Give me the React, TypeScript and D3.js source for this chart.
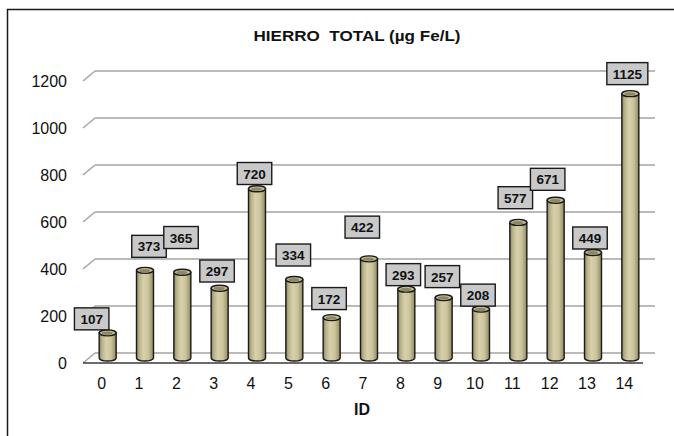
import React from "react";
import * as d3 from "d3";

const ids: string[] = ["0","1","2","3","4","5","6","7","8","9","10","11","12","13","14"];
const values: number[] = [107,373,365,297,720,334,172,422,293,257,208,577,671,449,1125];
const yTicks: number[] = [0,200,400,600,800,1000,1200];
const title = "HIERRO\u00a0\u00a0TOTAL (\u00b5g Fe/L)";
const xTitle = "ID";
// label nudges relative to bar top (style/layout)
const labelNudgeX: number[] = [-16,4,-1.3,-2.6,-2.5,-1,-2.6,-6.7,-3,-1.3,-3,-3,-8,-3,-3];
const labelNudgeY: number[] = [-14,-24,-34.7,-17.2,-15.3,-24.5,-19,-31.7,-14.5,-21,-14,-24.7,-21,-14.5,-20];

const W = 674, H = 436;
const depthX = -12, depthY = 10; // back -> front
const FONT = "'Liberation Sans', Arial, sans-serif";

export default function App() {
  const x = d3.scaleBand<string>().domain(ids).range([95, 655]).paddingInner(0).paddingOuter(0);
  const y = d3.scaleLinear().domain([0, 1200]).range([353, 71]);
  const bw = 17, rx = bw / 2, ry = 3;
  const midX = depthX / 2, midY = depthY / 2;
  const base = y(0) + midY;

  return (
    <svg width={W} height={H} style={{ position: "fixed", left: 0, top: 0 }} fontFamily={FONT}>
      <defs>
        <linearGradient id="body" x1="0" x2="1" y1="0" y2="0">
          <stop offset="0%" stopColor="#8d8664" />
          <stop offset="18%" stopColor="#bcb48b" />
          <stop offset="42%" stopColor="#d8d1aa" />
          <stop offset="70%" stopColor="#cbc399" />
          <stop offset="100%" stopColor="#8f8865" />
        </linearGradient>
      </defs>
      <rect x={7.5} y={9.5} width={700} height={500} fill="#fff" stroke="#1a1a1a" strokeWidth={1.5} />
      <text x={357} y={40.8} textAnchor="middle" fontSize={15.5} fontWeight="bold" fill="#111" textLength={207} lengthAdjust="spacingAndGlyphs">{title}</text>

      {/* gridlines on back wall with diagonal on left wall */}
      {yTicks.map((t) => (
        <g key={"g" + t}>
          <line x1={95} x2={655} y1={y(t)} y2={y(t)} stroke="#a3a3a3" strokeWidth={1.4} />
          <line x1={95 + depthX} x2={95} y1={y(t) + depthY} y2={y(t)} stroke="#a3a3a3" strokeWidth={1.4} />
        </g>
      ))}
      {/* front floor edge */}
      <line x1={95 + depthX} x2={655 + depthX} y1={y(0) + depthY} y2={y(0) + depthY} stroke="#3a3a3a" strokeWidth={1.5} />

      {/* y tick labels */}
      {yTicks.map((t) => (
        <text key={"yl" + t} x={67} y={y(t) + depthY + 5.8} textAnchor="end" fontSize={16} fill="#111">{t}</text>
      ))}

      {/* bars */}
      {ids.map((id, i) => {
        const cx = (x(id) as number) + x.bandwidth() / 2 + midX;
        const top = y(values[i]) + midY;
        const l = cx - rx, r = cx + rx;
        const d = `M${l},${top} L${l},${base} A${rx},${ry} 0 0 0 ${r},${base} L${r},${top} Z`;
        return (
          <g key={"b" + id}>
            <path d={d} fill="url(#body)" stroke="#1a1a1a" strokeWidth={1.4} />
            <ellipse cx={cx} cy={top} rx={rx} ry={ry} fill="#c6be96" stroke="#1a1a1a" strokeWidth={1.4} />
            <ellipse cx={cx - 0.5} cy={top + 0.3} rx={rx - 3} ry={ry - 1.3} fill="#8e8763" />
          </g>
        );
      })}

      {/* data labels */}
      {ids.map((id, i) => {
        const cx = (x(id) as number) + x.bandwidth() / 2 + midX + labelNudgeX[i];
        const cy = y(values[i]) + midY + labelNudgeY[i];
        const txt = String(values[i]);
        const w = txt.length > 3 ? 41 : 34.5;
        const h = 22;
        return (
          <g key={"l" + id}>
            <rect x={cx - w / 2} y={cy - h / 2} width={w} height={h} fill="#c9c9c9" stroke="#1a1a1a" strokeWidth={1.4} />
            <text x={cx} y={cy + 5} textAnchor="middle" fontSize={13.5} fontWeight="bold" fill="#111">{txt}</text>
          </g>
        );
      })}

      {/* x tick labels on front plane */}
      {ids.map((id) => (
        <text key={"xl" + id} x={(x(id) as number) + x.bandwidth() / 2 + depthX} y={389} textAnchor="middle" fontSize={16} fill="#111">{id}</text>
      ))}
      <text x={362} y={415} textAnchor="middle" fontSize={16} fontWeight="bold" fill="#111">{xTitle}</text>
    </svg>
  );
}
